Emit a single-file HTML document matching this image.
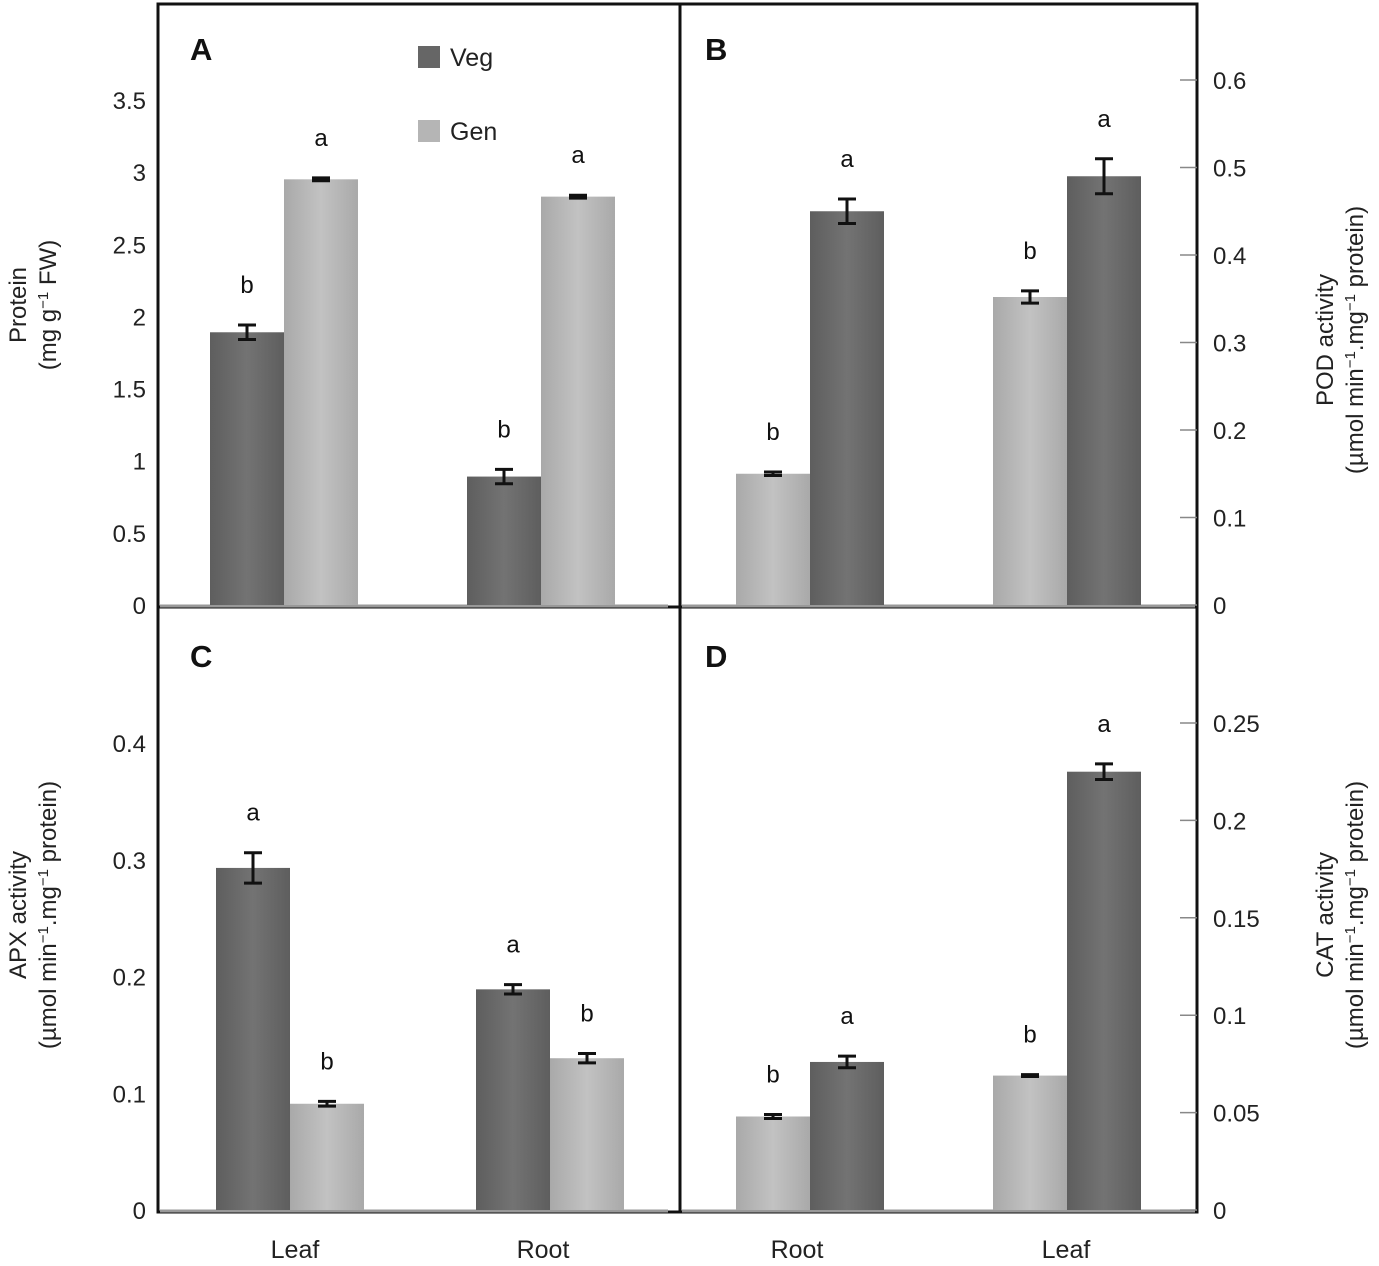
<!DOCTYPE html>
<html><head><meta charset="utf-8"><style>
body{margin:0;background:#fff;}
svg{display:block;font-family:"Liberation Sans",Arial,sans-serif;}
</style></head><body>
<svg id="chart" width="1379" height="1266" viewBox="0 0 1379 1266" xmlns="http://www.w3.org/2000/svg">
<defs>
<linearGradient id="gDark" x1="0" x2="1"><stop offset="0" stop-color="#5e5e5e"/><stop offset="0.5" stop-color="#737373"/><stop offset="1" stop-color="#5e5e5e"/></linearGradient>
<linearGradient id="gLight" x1="0" x2="1"><stop offset="0" stop-color="#a9a9a9"/><stop offset="0.5" stop-color="#c2c2c2"/><stop offset="1" stop-color="#a9a9a9"/></linearGradient>
</defs>
<g id="frame">
<rect x="158" y="4" width="1039" height="1208" fill="none" stroke="#111" stroke-width="3"/>
<line x1="680" y1="4" x2="680" y2="1212" stroke="#111" stroke-width="3"/>
<line x1="158" y1="607" x2="1197" y2="607" stroke="#111" stroke-width="3"/>
</g>
</svg>
<script>
const panelLabels=["A","B","C","D"];
const catsA=["Leaf","Root"], catsB=["Root","Leaf"];
const protVeg=[1.89,0.89], protGen=[2.95,2.83], protVegErr=[0.05,0.05], protGenErr=[0.01,0.01];
const podVeg=[0.45,0.49], podGen=[0.15,0.352], podVegErr=[0.014,0.02], podGenErr=[0.002,0.007];
const apxVeg=[0.293,0.189], apxGen=[0.091,0.13], apxVegErr=[0.013,0.004], apxGenErr=[0.002,0.004];
const catVeg=[0.076,0.225], catGen=[0.048,0.069], catVegErr=[0.003,0.004], catGenErr=[0.001,0.0005];
const letA=[["b","a"],["b","a"]], letB=[["b","a"],["b","a"]], letC=[["a","b"],["a","b"]], letD=[["b","a"],["b","a"]];
const ticksA=["0","0.5","1","1.5","2","2.5","3","3.5"], ticksB=["0","0.1","0.2","0.3","0.4","0.5","0.6"];
const ticksC=["0","0.1","0.2","0.3","0.4"], ticksD=["0","0.05","0.1","0.15","0.2","0.25"];

const svg=document.getElementById('chart');
const NS="http://www.w3.org/2000/svg";
function mk(t,a,txt){const e=document.createElementNS(NS,t);for(const k in a)e.setAttribute(k,a[k]);if(txt!==undefined)e.textContent=txt;svg.appendChild(e);return e;}

// panels config: y0 pixel at value 0, scale px per unit
const panels=[
 {key:"a",y0:605,ppu:144.3,side:"left",ticks:ticksA,g1:protVeg,g2:protGen,e1:protVegErr,e2:protGenErr,firstDark:true,letters:letA,groups:[210,467],x0:160,x1:668,lab:[190,48]},
 {key:"b",y0:605,ppu:875,side:"right",ticks:ticksB,g1:podGen,g2:podVeg,e1:podGenErr,e2:podVegErr,firstDark:false,letters:letB,groups:[736,993],x0:682,x1:1195,lab:[705,48]},
 {key:"c",y0:1210,ppu:1167.5,side:"left",ticks:ticksC,g1:apxVeg,g2:apxGen,e1:apxVegErr,e2:apxGenErr,firstDark:true,letters:letC,groups:[216,476],x0:160,x1:668,lab:[190,655]},
 {key:"d",y0:1210,ppu:1948,side:"right",ticks:ticksD,g1:catGen,g2:catVeg,e1:catGenErr,e2:catVegErr,firstDark:false,letters:letD,groups:[736,993],x0:682,x1:1195,lab:[705,655]}
];
const bw=74;
panels.forEach((p,pi)=>{
 const y=v=>p.y0-v*p.ppu;
 const bl=mk('line',{x1:p.x0,y1:p.y0+1,x2:p.x1,y2:p.y0+1,stroke:'#999','stroke-width':3});
 
 
 const L=mk('text',{x:p.lab[0],y:p.lab[1]+12,'font-size':31,'font-weight':'bold',fill:'#111'},panelLabels[pi]);
 
 
 p.ticks.forEach(t=>{
  const v=parseFloat(t), ty=y(v);
  let tx;
  if(p.side==="left"){tx=mk('text',{x:146,y:ty+9,'font-size':24,'text-anchor':'end',fill:'#222'},t);}
  else{tx=mk('text',{x:1213,y:ty+9,'font-size':24,fill:'#222'},t);
   const tm=mk('line',{x1:1180,y1:ty,x2:1197,y2:ty,stroke:'#888','stroke-width':1.5});
   
   }
  
  
 });
 for(let i=0;i<2;i++){
  const gx=p.groups[i];
  [[p.g1,p.e1,0,p.firstDark],[p.g2,p.e2,1,!p.firstDark]].forEach(([vals,errs,j,dark])=>{
   const v=vals[i], bx=gx+j*bw;
   const r=mk('rect',{x:bx,y:y(v),width:bw,height:p.y0-y(v),fill:dark?'url(#gDark)':'url(#gLight)'});
   
   
   const e=errs[i], cx=bx+bw/2;
   const eb=mk('path',{d:`M${cx-9},${y(v+e)}H${cx+9}M${cx},${y(v+e)}V${y(v-e)}M${cx-9},${y(v-e)}H${cx+9}`,stroke:'#111','stroke-width':3,fill:'none'});
   
   
   const lt=mk('text',{x:cx,y:y(v+e)-32,'font-size':24,'text-anchor':'middle',fill:'#111'},p.letters[i][j]);
   
   
  });
 }
});
// x labels
[["Leaf",295],["Root",543],["Root",797],["Leaf",1066]].forEach(([t,x])=>{
 const e=mk('text',{x:x,y:1258,'font-size':25,'text-anchor':'middle',fill:'#222'},t);
 
 
});
// legend
[["Veg","#666",57],["Gen","#b5b5b5",131]].forEach(([t,c,yy])=>{
 const r=mk('rect',{x:418,y:yy-11,width:22,height:22,fill:c});
 
 
 const e=mk('text',{x:450,y:yy+9,'font-size':25,fill:'#222'},t);
 
 
});
// axis titles
function title(lines,x,y,name){
 const g=document.createElementNS(NS,'g');
 g.setAttribute('transform',`translate(${x},${y}) rotate(-90)`);
 
 
 lines.forEach((l,i)=>{const t=document.createElementNS(NS,'text');t.setAttribute('x',0);t.setAttribute('y',i*30);t.setAttribute('font-size',24);t.setAttribute('text-anchor','middle');t.setAttribute('fill','#222');t.innerHTML=l;g.appendChild(t);});
 svg.appendChild(g);
}
title(["Protein","(mg g<tspan baseline-shift='super' font-size='15'>−1</tspan> FW)"],26,305,'y-axis-title-a');
title(["POD activity","(µmol min<tspan baseline-shift='super' font-size='15'>−1</tspan>.mg<tspan baseline-shift='super' font-size='15'>−1</tspan> protein)"],1333,340,'y-axis-title-b');
title(["APX activity","(µmol min<tspan baseline-shift='super' font-size='15'>−1</tspan>.mg<tspan baseline-shift='super' font-size='15'>−1</tspan> protein)"],26,915,'y-axis-title-c');
title(["CAT activity","(µmol min<tspan baseline-shift='super' font-size='15'>−1</tspan>.mg<tspan baseline-shift='super' font-size='15'>−1</tspan> protein)"],1333,915,'y-axis-title-d');
</script>
</body></html>
